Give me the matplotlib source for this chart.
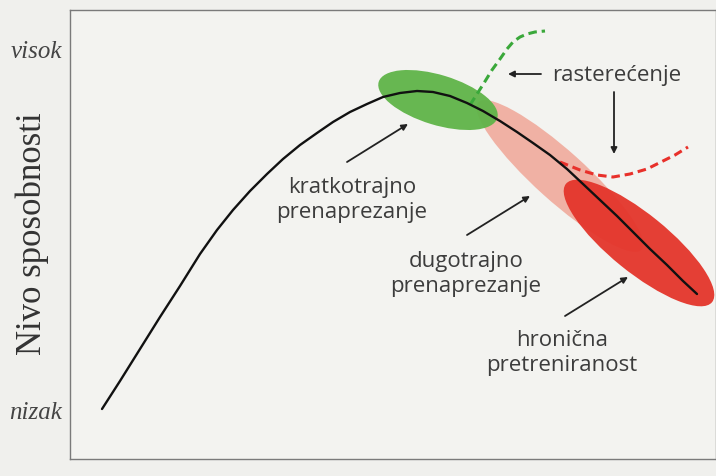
import matplotlib
matplotlib.use("Agg")
import matplotlib.pyplot as plt
from matplotlib.patches import Ellipse

# --- data (pixel-like coordinates of the schematic) ---
curve_x = [102, 120, 140, 160, 180, 200, 217, 233, 250, 267, 283, 300, 317, 333, 350, 367, 383,
           400, 417, 433, 450, 467, 483, 500, 517, 533, 550, 567, 583, 600, 617, 633, 650, 667,
           683, 697]
curve_y = [410, 382, 350, 318, 287, 255, 231, 211, 192, 175, 160, 146, 134, 123, 113, 105, 98,
           94, 92, 93, 97, 104, 112, 122, 133, 144, 156, 170, 185, 201, 217, 233, 250, 266,
           282, 295]

green_dash_x = [470, 477, 484, 492, 500, 507, 513, 520, 527, 535, 545]
green_dash_y = [106, 95, 84, 71, 60, 50, 43, 38, 35, 33, 32]

red_dash_x = [560, 570, 580, 597, 613, 630, 647, 663, 675, 688]
red_dash_y = [163, 167, 171, 176, 178, 175, 170, 162, 156, 148]

ellipse_names = ["green", "pink", "red"]
ellipse_cx = [438, 560, 639]
ellipse_cy = [101, 177, 244]
ellipse_w = [124, 220, 188]
ellipse_h = [50, 50, 58]
ellipse_angle = [17, 42, 39]
ellipse_colors = ["#5fb448", "#f0aea0", "#e4352b"]

labels = ["kratkotrajno\nprenaprezanje", "dugotrajno\nprenaprezanje", "hronična\npretreniranost"]
label_x = [352, 466, 562]
label_y = [200, 274, 353]
arrow_start = [(347, 163), (467, 236), (565, 317)]
arrow_end = [(408, 125), (530, 197), (628, 278)]

y_ticks = [52, 413]
y_ticklabels = ["visok", "nizak"]

fig = plt.figure(figsize=(7.16, 4.77), dpi=100)
fig.patch.set_facecolor("#f0f0ed")
ax = fig.add_axes([70 / 716, (477 - 460) / 477, (716 - 70) / 716, (460 - 11) / 477])
ax.set_facecolor("#f3f3f0")
ax.set_xlim(70, 716)
ax.set_ylim(460, 11)
ax.set_xticks([])
ax.set_yticks([])
for s in ax.spines.values():
    s.set_color("#7a7a7a")
    s.set_linewidth(1.0)

for i in [1, 0, 2]:
    e = Ellipse((ellipse_cx[i], ellipse_cy[i]), ellipse_w[i], ellipse_h[i],
                angle=ellipse_angle[i], facecolor=ellipse_colors[i], edgecolor="none",
                alpha=0.95, zorder=1)
    ax.add_patch(e)

ax.plot(green_dash_x, green_dash_y, color="#3aa83a", lw=2.2, dashes=(2.8, 1.6), zorder=2)
ax.plot(red_dash_x, red_dash_y, color="#e8302a", lw=2.2, dashes=(2.8, 1.6), zorder=2)
ax.plot(curve_x, curve_y, color="#111111", lw=1.7, zorder=3, solid_capstyle="round",
        solid_joinstyle="round")

txt_color = "#3c3c3c"
font = "Open Sans"
for lab, x, y in zip(labels, label_x, label_y):
    ax.text(x, y, lab, ha="center", va="center", fontsize=16, color=txt_color,
            family=font, linespacing=1.25)
for (x0, y0), (x1, y1) in zip(arrow_start, arrow_end):
    ax.annotate("", xy=(x1, y1), xytext=(x0, y0),
                arrowprops=dict(arrowstyle="-|>", color="#222222", lw=1.3,
                                mutation_scale=9, shrinkA=0, shrinkB=0))

ax.text(617, 75, "rasterećenje", ha="center", va="center", fontsize=16, color=txt_color, family=font)
ax.annotate("", xy=(508, 75), xytext=(541, 75),
            arrowprops=dict(arrowstyle="-|>", color="#222222", lw=1.3,
                            mutation_scale=9, shrinkA=0, shrinkB=0))
ax.annotate("", xy=(614, 155), xytext=(614, 93),
            arrowprops=dict(arrowstyle="-|>", color="#222222", lw=1.3,
                            mutation_scale=9, shrinkA=0, shrinkB=0))

for yv, lab in zip(y_ticks, y_ticklabels):
    ax.text(62, yv, lab, ha="right", va="center", fontsize=18, style="italic",
            family="Liberation Serif", color="#444444")
fig.text(32 / 716, 1 - 234 / 477, "Nivo sposobnosti", rotation=90, ha="center", va="center",
         fontsize=25, family="Liberation Serif", color="#333333")

fig.savefig("out.png", dpi=100, facecolor=fig.get_facecolor())
